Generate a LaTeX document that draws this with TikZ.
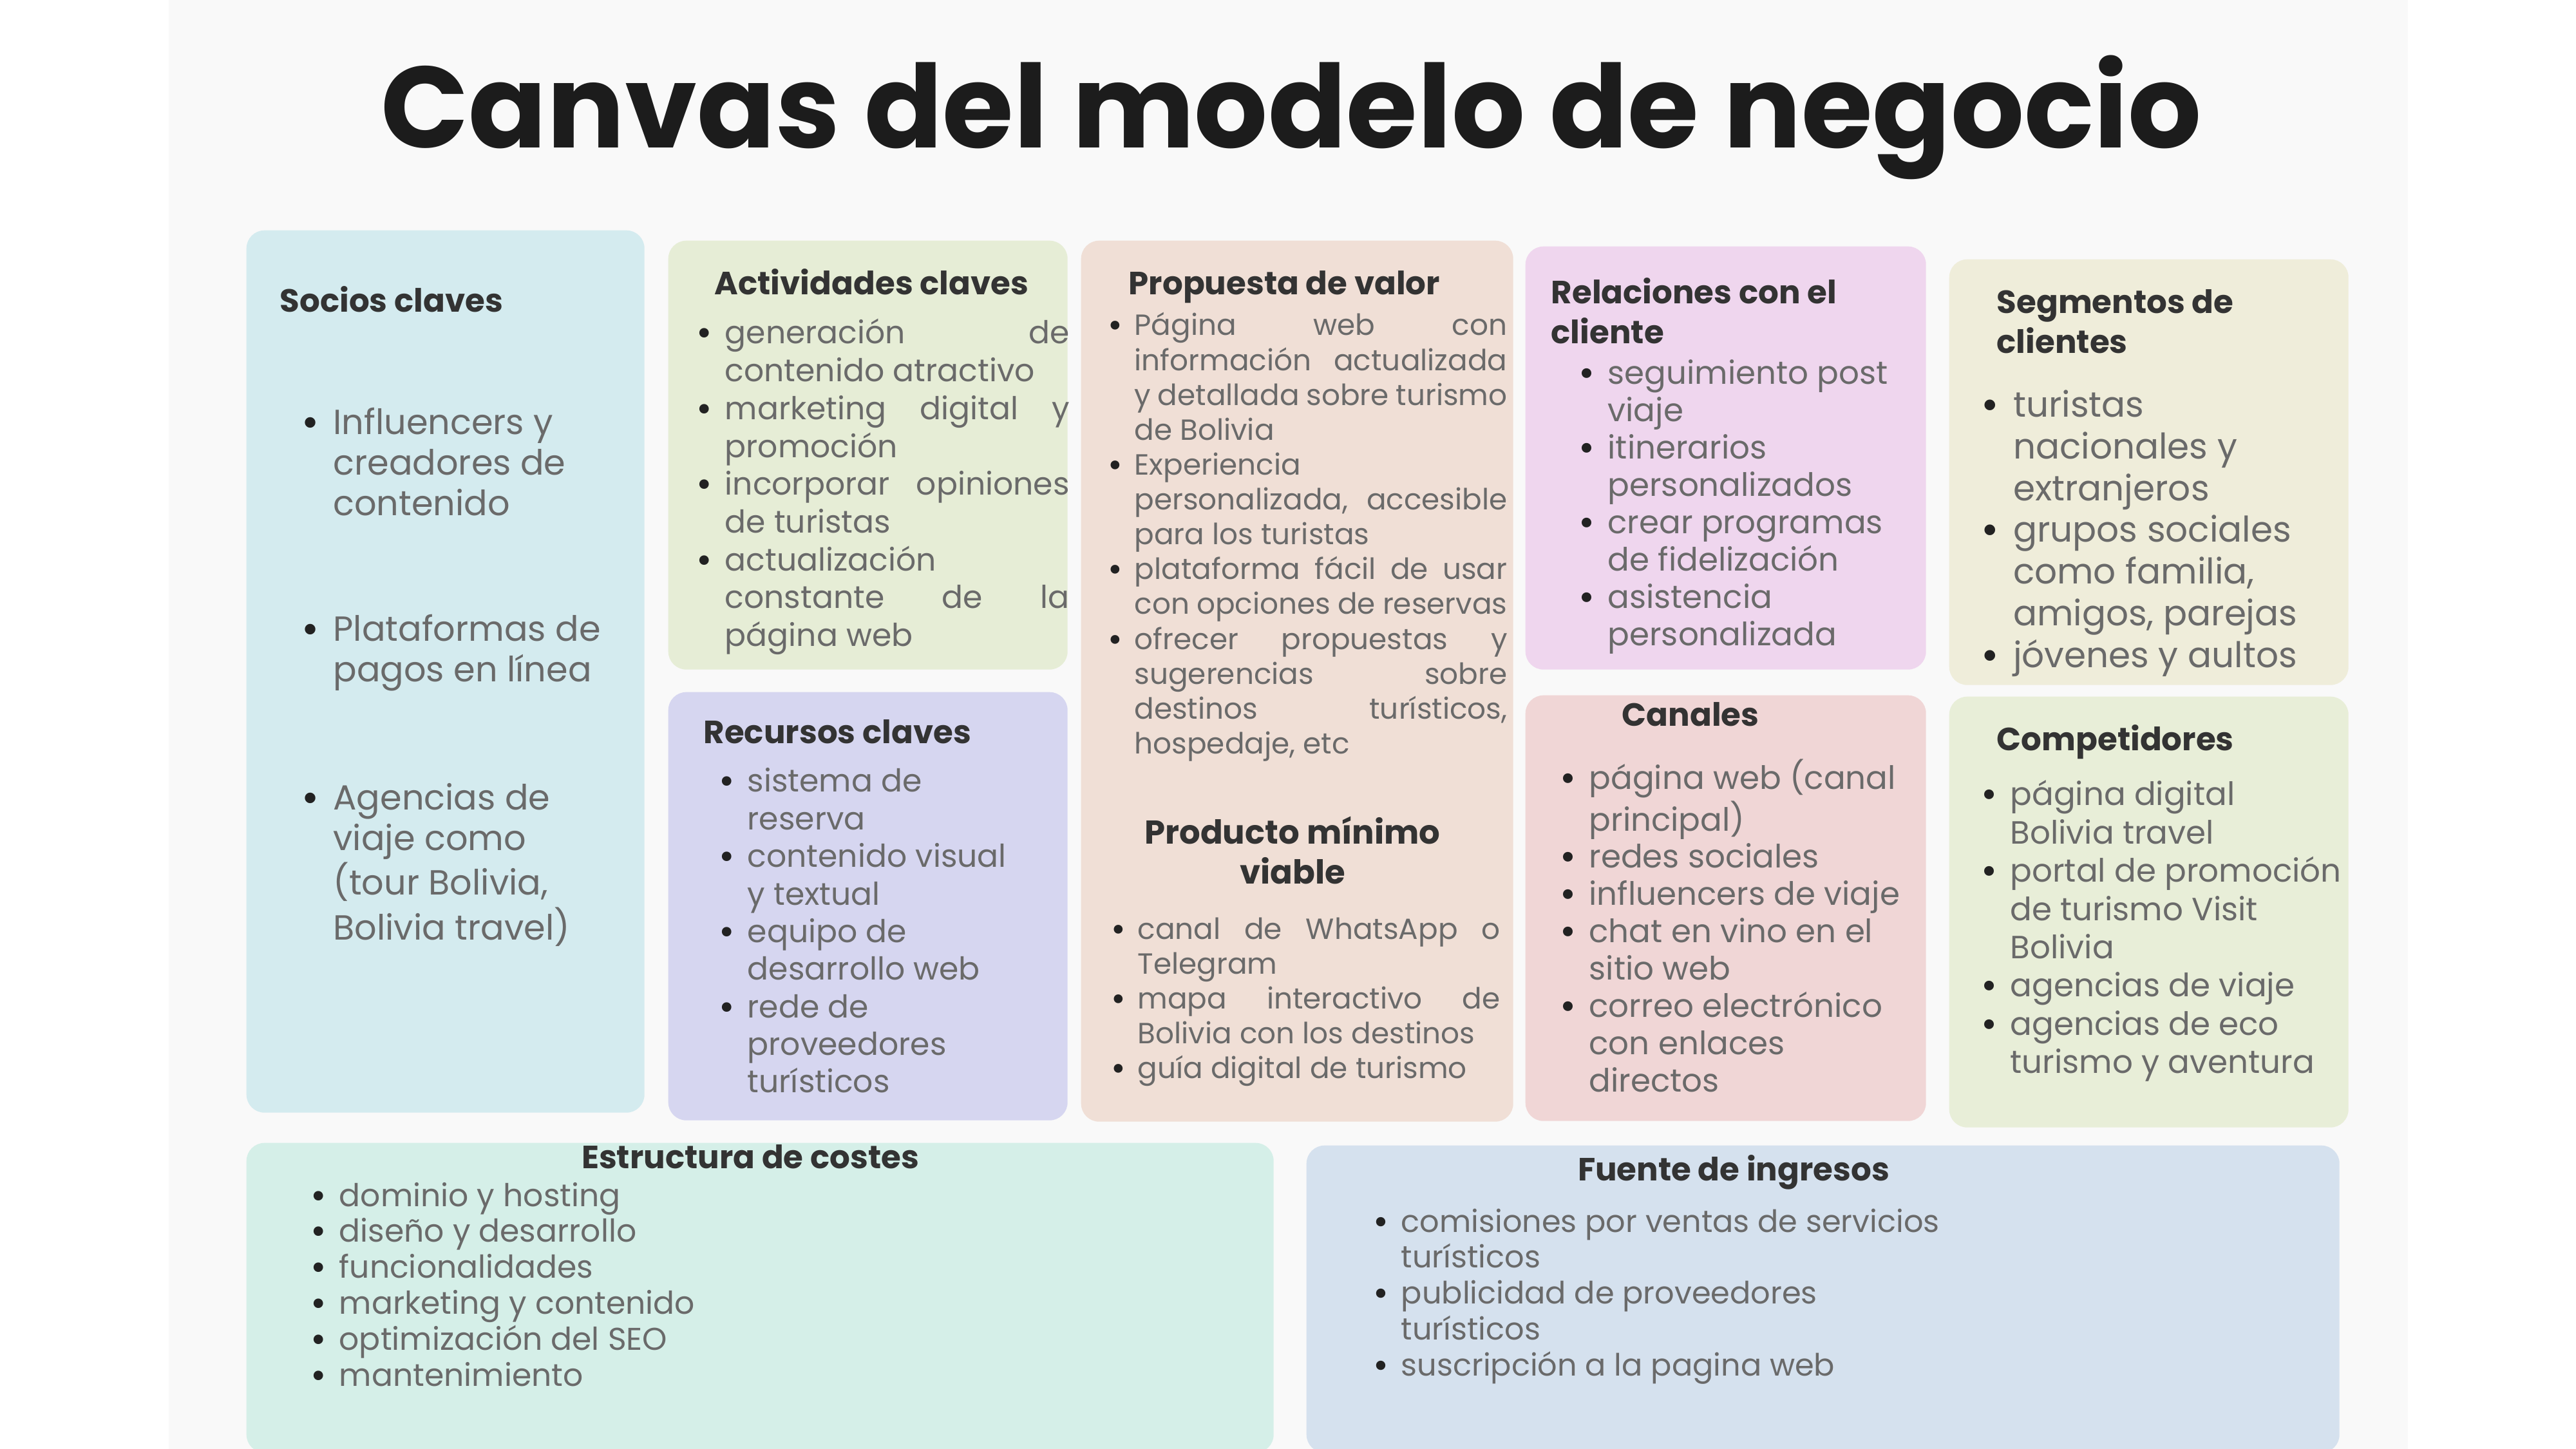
\documentclass[tikz,border=0pt]{standalone}
\usepackage{fontspec}
\setmainfont{Poppins}
\usetikzlibrary{positioning}
\definecolor{panelbg}{HTML}{F9F9F9}
\definecolor{sociosbg}{HTML}{D4EBEF}
\definecolor{activbg}{HTML}{E6EDD6}
\definecolor{recurbg}{HTML}{D6D6F0}
\definecolor{propbg}{HTML}{F0DFD6}
\definecolor{relacbg}{HTML}{EFD6EE}
\definecolor{canalbg}{HTML}{F0D6D6}
\definecolor{segmbg}{HTML}{EFEDDA}
\definecolor{compebg}{HTML}{E8EED8}
\definecolor{costebg}{HTML}{D5EFE8}
\definecolor{ingrebg}{HTML}{D5E1EE}
\definecolor{titlec}{HTML}{1C1C1C}
\definecolor{headc}{HTML}{333333}
\definecolor{itemc}{HTML}{6A6A6A}
\definecolor{bulletc}{HTML}{222222}
\newcommand{\bulletmark}{\textcolor{bulletc}{\bfseries\textbullet}}

\begin{document}
\begin{tikzpicture}[
      box/.style={rounded corners=0.28cm, anchor=north west, inner sep=0pt},
      head/.style={font=\bfseries\fontsize{14.2}{17.6}\selectfont, text=headc, inner sep=0pt, anchor=base west},
      lst/.style={text=itemc, inner sep=0pt, anchor=base west}]
    \useasboundingbox (0,0) rectangle (40,-22.5);
    \fill[panelbg] (2.62,0) rectangle (37.39,-22.5);
    \node[font=\bfseries\fontsize{51}{58}\selectfont, text=titlec, inner sep=0pt, anchor=base] (title) at (20.05,-2.30) {Canvas del modelo de negocio};

    \node[box, fill=sociosbg, minimum width=6.18cm, minimum height=13.70cm] (socios) at (3.82,-3.57) {};
    \node[box, fill=activbg, minimum width=6.20cm, minimum height=6.66cm] (activ) at (10.37,-3.73) {};
    \node[box, fill=recurbg, minimum width=6.20cm, minimum height=6.65cm] (recur) at (10.37,-10.74) {};
    \node[box, fill=propbg, minimum width=6.71cm, minimum height=13.68cm] (prop) at (16.78,-3.73) {};
    \node[box, fill=relacbg, minimum width=6.22cm, minimum height=6.57cm] (relac) at (23.68,-3.82) {};
    \node[box, fill=canalbg, minimum width=6.22cm, minimum height=6.61cm] (canal) at (23.68,-10.79) {};
    \node[box, fill=segmbg, minimum width=6.20cm, minimum height=6.61cm] (segm) at (30.26,-4.02) {};
    \node[box, fill=compebg, minimum width=6.20cm, minimum height=6.69cm] (compe) at (30.26,-10.81) {};
    \node[box, fill=costebg, minimum width=15.95cm, minimum height=4.81cm] (coste) at (3.82,-17.74) {};
    \node[box, fill=ingrebg, minimum width=16.04cm, minimum height=4.77cm] (ingre) at (20.28,-17.78) {};

    \node[head] (socios-h) at ([shift={(0.52,-1.28)}]socios.north west) {Socios claves};
    \node[lst, font=\fontsize{15.4}{17.9}\selectfont] (socios-l) at ([shift={(0.86,-3.18)}]socios.north west) {\begin{tabular}[t]{@{}l@{\hskip .4em}l@{}}
      \bulletmark & Influencers y\\
       & creadores de\\
       & contenido\\[1.32cm]
      \bulletmark & Plataformas de\\
       & pagos en línea\\[1.36cm]
      \bulletmark & Agencias de\\
       & viaje como\\
       & (tour Bolivia,\\
       & Bolivia travel)
    \end{tabular}};

    \node[head] (activ-h) at ([shift={(0.72,-0.85)}]activ.north west) {Actividades claves};
    \node[lst, font=\fontsize{13.9}{16.7}\selectfont] (activ-l) at ([shift={(0.44,-1.61)}]activ.north west) {\begin{tabular}[t]{@{}l@{\hskip .4em}l@{}}
      \bulletmark & \makebox[5.35cm][s]{generación de}\\
       & contenido atractivo\\
      \bulletmark & \makebox[5.35cm][s]{marketing digital y}\\
       & promoción\\
      \bulletmark & \makebox[5.35cm][s]{incorporar opiniones}\\
       & de turistas\\
      \bulletmark & actualización\\
       & \makebox[5.35cm][s]{constante de la}\\
       & página web
    \end{tabular}};

    \node[head] (recur-h) at ([shift={(0.55,-0.81)}]recur.north west) {Recursos claves};
    \node[lst, font=\fontsize{13.9}{16.6}\selectfont] (recur-l) at ([shift={(0.79,-1.56)}]recur.north west) {\begin{tabular}[t]{@{}l@{\hskip .4em}l@{}}
      \bulletmark & sistema de\\
       & reserva\\
      \bulletmark & contenido visual\\
       & y textual\\
      \bulletmark & equipo de\\
       & desarrollo web\\
      \bulletmark & rede de\\
       & proveedores\\
       & turísticos
    \end{tabular}};

    \node[head] (prop-h) at ([shift={(0.74,-0.85)}]prop.north west) {Propuesta de valor};
    \node[lst, font=\fontsize{12.9}{15.4}\selectfont] (prop-l) at ([shift={(0.42,-1.48)}]prop.north west) {\begin{tabular}[t]{@{}l@{\hskip .4em}l@{}}
      \bulletmark & \makebox[5.79cm][s]{Página web con}\\
       & \makebox[5.79cm][s]{información actualizada}\\
       & \makebox[5.79cm][s]{y detallada sobre turismo}\\
       & de Bolivia\\
      \bulletmark & Experiencia\\
       & \makebox[5.79cm][s]{personalizada, accesible}\\
       & para los turistas\\
      \bulletmark & \makebox[5.79cm][s]{plataforma fácil de usar}\\
       & \makebox[5.79cm][s]{con opciones de reservas}\\
      \bulletmark & \makebox[5.79cm][s]{ofrecer propuestas y}\\
       & \makebox[5.79cm][s]{sugerencias sobre}\\
       & \makebox[5.79cm][s]{destinos turísticos,}\\
       & hospedaje, etc
    \end{tabular}};
    \node[head, font=\bfseries\fontsize{14.6}{17.6}\selectfont, anchor=base] (mvp-h) at ([shift={(3.29,-9.38)}]prop.north west) {\begin{tabular}[t]{@{}c@{}}Producto mínimo\\viable\end{tabular}};
    \node[lst, font=\fontsize{12.9}{15.4}\selectfont] (mvp-l) at ([shift={(0.47,-10.85)}]prop.north west) {\begin{tabular}[t]{@{}l@{\hskip .4em}l@{}}
      \bulletmark & \makebox[5.63cm][s]{canal de WhatsApp o}\\
       & Telegram\\
      \bulletmark & \makebox[5.63cm][s]{mapa interactivo de}\\
       & Bolivia con los destinos\\
      \bulletmark & guía digital de turismo
    \end{tabular}};

    \node[head] (relac-h) at ([shift={(0.40,-0.90)}]relac.north west) {\begin{tabular}[t]{@{}l@{}}Relaciones con el\\cliente\end{tabular}};
    \node[lst, font=\fontsize{14.2}{16.5}\selectfont] (relac-l) at ([shift={(0.83,-2.15)}]relac.north west) {\begin{tabular}[t]{@{}l@{\hskip .4em}l@{}}
      \bulletmark & seguimiento post\\
       & viaje\\
      \bulletmark & itinerarios\\
       & personalizados\\
      \bulletmark & crear programas\\
       & de fidelización\\
      \bulletmark & asistencia\\
       & personalizada
    \end{tabular}};

    \node[head, anchor=base] (canal-h) at ([shift={(2.57,-0.49)}]canal.north west) {Canales};
    \node[lst, font=\fontsize{14.2}{16.5}\selectfont] (canal-l) at ([shift={(0.54,-1.47)}]canal.north west) {\begin{tabular}[t]{@{}l@{\hskip .4em}l@{}}
      \bulletmark & página web (canal\\
       & principal)\\
      \bulletmark & redes sociales\\
      \bulletmark & influencers de viaje\\
      \bulletmark & chat en vino en el\\
       & sitio web\\
      \bulletmark & correo electrónico\\
       & con enlaces\\
       & directos
    \end{tabular}};

    \node[head] (segm-h) at ([shift={(0.74,-0.85)}]segm.north west) {\begin{tabular}[t]{@{}l@{}}Segmentos de\\clientes\end{tabular}};
    \node[lst, font=\fontsize{15.6}{18.4}\selectfont] (segm-l) at ([shift={(0.50,-2.46)}]segm.north west) {\begin{tabular}[t]{@{}l@{\hskip .4em}l@{}}
      \bulletmark & turistas\\
       & nacionales y\\
       & extranjeros\\
      \bulletmark & grupos sociales\\
       & como familia,\\
       & amigos, parejas\\
      \bulletmark & jóvenes y aultos
    \end{tabular}};

    \node[head] (compe-h) at ([shift={(0.74,-0.85)}]compe.north west) {Competidores};
    \node[lst, font=\fontsize{14.2}{16.9}\selectfont] (compe-l) at ([shift={(0.50,-1.70)}]compe.north west) {\begin{tabular}[t]{@{}l@{\hskip .4em}l@{}}
      \bulletmark & página digital\\
       & Bolivia travel\\
      \bulletmark & portal de promoción\\
       & de turismo Visit\\
       & Bolivia\\
      \bulletmark & agencias de viaje\\
      \bulletmark & agencias de eco\\
       & turismo y aventura
    \end{tabular}};

    \node[head, anchor=base] (coste-h) at ([shift={(7.83,-0.40)}]coste.north west) {Estructura de costes};
    \node[lst, font=\fontsize{13.9}{15.9}\selectfont] (coste-l) at ([shift={(1.00,-0.99)}]coste.north west) {\begin{tabular}[t]{@{}l@{\hskip .4em}l@{}}
      \bulletmark & dominio y hosting\\
      \bulletmark & diseño y desarrollo\\
      \bulletmark & funcionalidades\\
      \bulletmark & marketing y contenido\\
      \bulletmark & optimización del SEO\\
      \bulletmark & mantenimiento
    \end{tabular}};

    \node[head, anchor=base] (ingre-h) at ([shift={(6.64,-0.55)}]ingre.north west) {Fuente de ingresos};
    \node[lst, font=\fontsize{13.6}{15.9}\selectfont] (ingre-l) at ([shift={(1.04,-1.35)}]ingre.north west) {\begin{tabular}[t]{@{}l@{\hskip .4em}l@{}}
      \bulletmark & comisiones por ventas de servicios\\
       & turísticos\\
      \bulletmark & publicidad de proveedores\\
       & turísticos\\
      \bulletmark & suscripción a la pagina web
    \end{tabular}};
  \end{tikzpicture}
\end{document}
